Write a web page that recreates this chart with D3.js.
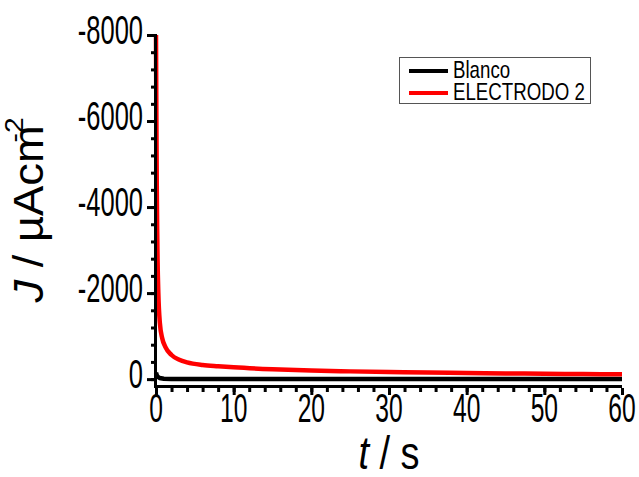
<!DOCTYPE html>
<html><head><meta charset="utf-8">
<script src="https://cdn.jsdelivr.net/npm/d3@7"></script>
<style>html,body{margin:0;padding:0;background:#fff;}svg{display:block;}</style>
</head><body>
<svg id="c" width="639" height="477"></svg>
<script>
// Data
const timeS = [0, 0.05, 0.1, 0.15, 0.2, 0.3, 0.5, 0.8, 1.2, 2, 3, 4, 6, 8, 10, 15, 20, 25, 30, 35, 40, 45, 50, 55, 60];
const electrodo2 = [-8000, -6000, -4500, -3500, -2800, -2000, -1300, -950, -750, -560, -450, -390, -330, -300, -275, -230, -200, -180, -165, -152, -142, -133, -125, -118, -112];
const blancoT = [0, 0.1, 0.2, 0.5, 1, 2, 5, 10, 20, 30, 40, 50, 60];
const blanco = [-150, -90, -60, -25, -8, -3, -1, 0, 0, 0, 0, 0, 0];
const xTicks = [0, 10, 20, 30, 40, 50, 60];
const yTicks = [-8000, -6000, -4000, -2000, 0];
const seriesNames = ["Blanco", "ELECTRODO 2"];
const seriesColors = ["#000000", "#ff0000"];

const svg = d3.select("#c");
const x = d3.scaleLinear().domain([0, 60]).range([156, 622]);
const y = d3.scaleLinear().domain([160, -8000]).range([386, 35]);
const F = "'Liberation Sans',Arial,sans-serif";
const SX = 0.85, SY = 1.38;

// data lines
const line = d3.line().x(d => x(d[0])).y(d => y(d[1]));
svg.append("path").datum(blancoT.map((t, i) => [t, blanco[i]]))
  .attr("d", line).attr("fill", "none").attr("stroke", seriesColors[0]).attr("stroke-width", 4.5);
svg.append("path").datum(timeS.map((t, i) => [t, electrodo2[i]]))
  .attr("d", d3.line().curve(d3.curveMonotoneX).x(d => x(d[0])).y(d => y(d[1])))
  .attr("fill", "none").attr("stroke", seriesColors[1]).attr("stroke-width", 4.5);

// axes
const gy = svg.append("g").attr("transform", "translate(154,0)")
  .call(d3.axisLeft(y).tickValues(d3.range(-8000, 1, 400)).tickSize(3).tickFormat(""));
gy.select(".domain").remove();
gy.selectAll(".tick line").attr("stroke", "#000").attr("stroke-width", 3);
const gyM = svg.append("g").attr("transform", "translate(154,0)")
  .call(d3.axisLeft(y).tickValues(yTicks).tickSize(7).tickFormat(""));
gyM.select(".domain").remove();
gyM.selectAll(".tick line").attr("stroke", "#000").attr("stroke-width", 3);

const gx = svg.append("g").attr("transform", "translate(0,388)")
  .call(d3.axisBottom(x).tickValues(d3.range(0, 61, 2)).tickSize(4).tickFormat(""));
gx.select(".domain").remove();
gx.selectAll(".tick line").attr("stroke", "#000").attr("stroke-width", 3);
const gxM = svg.append("g").attr("transform", "translate(0,388)")
  .call(d3.axisBottom(x).tickValues(xTicks).tickSize(7).tickFormat(""));
gxM.select(".domain").remove();
gxM.selectAll(".tick line").attr("stroke", "#000").attr("stroke-width", 3);

svg.append("line").attr("x1", 155.5).attr("x2", 155.5).attr("y1", 34).attr("y2", 388)
  .attr("stroke", "#000").attr("stroke-width", 3);
svg.append("line").attr("x1", 154).attr("x2", x(60)).attr("y1", 386.5).attr("y2", 386.5)
  .attr("stroke", "#000").attr("stroke-width", 3);

// tick labels
yTicks.forEach(v => {
  svg.append("text").attr("transform", `translate(143,${y(v) + 9}) scale(${SX},${SY})`)
    .attr("text-anchor", "end").attr("font-family", F).attr("font-size", 30).attr("fill", "#000")
    .text(d3.format("d")(v).replace("−", "-"));
});
xTicks.forEach(v => {
  svg.append("text").attr("transform", `translate(${x(v)},422) scale(0.82,${SY})`)
    .attr("text-anchor", "middle").attr("font-family", F).attr("font-size", 30).attr("fill", "#000")
    .text(v);
});

// axis titles
const xt = svg.append("text").attr("transform", `translate(389,469) scale(1,1.2)`)
  .attr("text-anchor", "middle").attr("font-family", F).attr("font-size", 38).attr("fill", "#000");
xt.append("tspan").attr("font-style", "italic").text("t");
xt.append("tspan").text(" / s");

const yt = svg.append("text").attr("transform", `translate(43,210) rotate(-90) scale(1.08,1)`)
  .attr("text-anchor", "middle").attr("font-family", F).attr("font-size", 42).attr("fill", "#000");
yt.append("tspan").attr("font-style", "italic").text("J");
yt.append("tspan").text(" / µAcm");
yt.append("tspan").attr("font-size", 26).attr("dx", -16).attr("dy", -20).text("-2");

// legend
svg.append("rect").attr("x", 399.5).attr("y", 57.5).attr("width", 191).attr("height", 46)
  .attr("fill", "#fff").attr("stroke", "#555").attr("stroke-width", 1);
seriesNames.forEach((n, i) => {
  const ly = 71 + i * 22;
  svg.append("line").attr("x1", 409).attr("x2", 448).attr("y1", ly).attr("y2", ly)
    .attr("stroke", seriesColors[i]).attr("stroke-width", 4);
  svg.append("text").attr("transform", `translate(453,${ly + 7}) scale(0.85,1.1)`)
    .attr("font-family", F).attr("font-size", 22).attr("fill", "#000").text(n);
});
</script>
</body></html>
